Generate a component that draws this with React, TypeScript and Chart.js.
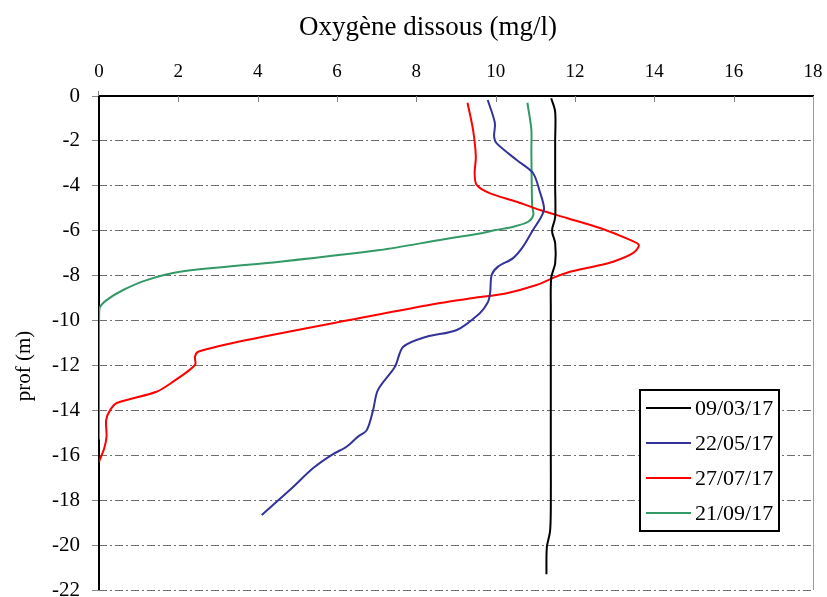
import React, { useEffect, useRef } from "react";
import { Chart, registerables } from "chart.js";

Chart.register(...registerables);

const seriesLabels = ["09/03/17", "22/05/17", "27/07/17", "21/09/17"];
const seriesColors = ["#000000", "#333399", "#FF0000", "#339966"];

const o2_0903 = [11.4, 11.5, 11.5, 11.5, 11.5, 11.42, 11.5, 11.5, 11.4, 11.39, 11.39, 11.39, 11.39, 11.37, 11.29, 11.28];
const depth_0903 = [-0.1, -0.7, -2, -4, -5.4, -6.0, -6.55, -7.45, -8.1, -9.5, -12, -16, -18.4, -19.4, -20.1, -21.3];

const o2_2205 = [9.8, 9.98, 9.96, 10.02, 10.53, 10.94, 11.12, 11.22, 11.15, 10.94, 10.69, 10.44, 10.06, 9.9, 9.86, 9.8, 9.6, 9.02, 8.26, 7.67, 7.46, 7.03, 6.91, 6.75, 6.53, 6.24, 5.86, 5.4, 4.81, 4.1];
const depth_2205 = [-0.18, -1.2, -1.8, -2.1, -2.85, -3.43, -4.3, -5.0, -5.38, -5.97, -6.71, -7.22, -7.6, -7.97, -8.78, -9.2, -9.67, -10.42, -10.72, -11.17, -12.06, -13.1, -13.99, -14.88, -15.17, -15.62, -15.99, -16.57, -17.55, -18.66];

const o2_2707 = [9.29, 9.43, 9.5, 9.47, 9.52, 9.86, 10.53, 11.12, 11.79, 12.63, 13.39, 13.61, 13.46, 12.96, 12.45, 11.87, 11.45, 11.03, 10.28, 9.43, 8.6, 6.58, 3.72, 2.5, 2.42, 2.42, 1.87, 1.45, 0.45, 0.28, 0.18, 0.19, 0.13, 0.0];
const depth_2707 = [-0.3, -1.51, -2.7, -3.43, -3.96, -4.34, -4.71, -5.08, -5.43, -5.88, -6.41, -6.64, -7.0, -7.38, -7.6, -7.83, -8.1, -8.42, -8.78, -9.0, -9.22, -9.89, -10.87, -11.39, -11.61, -11.98, -12.72, -13.17, -13.67, -13.99, -14.43, -15.17, -15.7, -16.29];

const o2_2109 = [10.8, 10.9, 10.9, 10.92, 10.95, 10.82, 10.45, 10.0, 9.6, 8.6, 7.08, 4.56, 2.04, 1.2, 0.61, 0.19, 0.01, 0, 0];
const depth_2109 = [-0.3, -1.5, -2.4, -4.9, -5.3, -5.6, -5.82, -5.97, -6.12, -6.41, -6.86, -7.38, -7.83, -8.2, -8.64, -9.09, -9.46, -10.4, -15.3];

const xTitle = "Oxygène dissous (mg/l)";
const yTitle = "prof (m)";

const SERIF = "'Liberation Serif', 'Times New Roman', serif";
const GRID_GRAY = "#6e6e6e";

function toPoints(xs: number[], ys: number[]) {
  return xs.map((x, i) => ({ x, y: ys[i] }));
}

const decorPlugin = {
  id: "decor",
  beforeDatasetsDraw(chart: any) {
    const { ctx, chartArea } = chart;
    ctx.save();
    ctx.strokeStyle = "#000";
    ctx.lineWidth = 2;
    ctx.setLineDash([]);
    ctx.beginPath();
    ctx.moveTo(chartArea.left, chartArea.top - 1);
    ctx.lineTo(chartArea.left, chartArea.bottom);
    ctx.stroke();
    ctx.restore();
  },
  afterDraw(chart: any) {
    const { ctx, chartArea } = chart;
    const xs = chart.scales.x;
    ctx.save();
    ctx.setLineDash([]);
    // inside tick marks on top axis
    ctx.strokeStyle = "#808080";
    ctx.lineWidth = 1;
    xs.ticks.forEach((t: any) => {
      const px = Math.round(xs.getPixelForValue(t.value)) + 0.5;
      if (t.value > 0 && t.value < 18) {
        ctx.beginPath();
        ctx.moveTo(px, chartArea.top);
        ctx.lineTo(px, chartArea.top + 6);
        ctx.stroke();
      }
    });
    // small tick above origin
    ctx.beginPath();
    ctx.moveTo(chartArea.left - 0.5, chartArea.top - 5);
    ctx.lineTo(chartArea.left - 0.5, chartArea.top);
    ctx.stroke();
    // right border
    ctx.strokeStyle = "#9a9a9a";
    ctx.beginPath();
    ctx.moveTo(chartArea.right + 0.5, chartArea.top);
    ctx.lineTo(chartArea.right + 0.5, chartArea.bottom);
    ctx.stroke();

    // titles
    ctx.fillStyle = "#000";
    ctx.textAlign = "center";
    ctx.textBaseline = "middle";
    ctx.font = `27px ${SERIF}`;
    ctx.fillText(xTitle, 428, 28);
    ctx.save();
    ctx.translate(24, 366);
    ctx.rotate(-Math.PI / 2);
    ctx.font = `21px ${SERIF}`;
    ctx.fillText(yTitle, 0, 0);
    ctx.restore();

    // legend
    const lx = 640, ly = 390, lw = 139, lh = 141;
    ctx.fillStyle = "#fff";
    ctx.fillRect(lx, ly, lw, lh);
    ctx.strokeStyle = "#000";
    ctx.lineWidth = 2;
    ctx.strokeRect(lx, ly, lw, lh);
    ctx.font = `22px ${SERIF}`;
    ctx.textAlign = "left";
    chart.data.datasets.forEach((ds: any, i: number) => {
      const cy = ly + 18 + i * 35;
      ctx.strokeStyle = ds.borderColor;
      ctx.lineWidth = 2;
      ctx.beginPath();
      ctx.moveTo(lx + 6, cy);
      ctx.lineTo(lx + 51, cy);
      ctx.stroke();
      ctx.fillStyle = "#000";
      ctx.fillText(ds.label, lx + 55, cy + 1);
    });
    ctx.restore();
  },
};

export default function App() {
  const ref = useRef<HTMLCanvasElement | null>(null);
  useEffect(() => {
    if (!ref.current) return;
    const xsArr = [o2_0903, o2_2205, o2_2707, o2_2109];
    const ysArr = [depth_0903, depth_2205, depth_2707, depth_2109];
    const chart = new Chart(ref.current, {
      type: "scatter",
      data: {
        datasets: seriesLabels.map((label, i) => ({
          label,
          data: toPoints(xsArr[i], ysArr[i]),
          showLine: true,
          borderColor: seriesColors[i],
          backgroundColor: seriesColors[i],
          borderWidth: 2,
          pointRadius: 0,
          tension: 0.3,
          fill: false,
        })),
      },
      options: {
        responsive: false,
        animation: false,
        devicePixelRatio: 1,
        layout: { padding: { left: 0, top: 0, right: 14, bottom: 7 } },
        plugins: {
          legend: { display: false },
          tooltip: { enabled: false },
          title: { display: false },
        },
        scales: {
          x: {
            type: "linear",
            position: "top",
            min: 0,
            max: 18,
            ticks: {
              stepSize: 2,
              color: "#000",
              padding: 5,
              font: { family: SERIF, size: 19 },
              callback: (v: any) => String(v),
            },
            grid: { display: false },
            border: { display: true, color: "#000", width: 2 },
            afterFit: (s: any) => {
              s.height = 96;
              s.paddingLeft = 0;
              s.paddingRight = 0;
              s.paddingTop = 0;
              s.paddingBottom = 0;
            },
          },
          y: {
            type: "linear",
            min: -22,
            max: 0,
            ticks: {
              stepSize: 2,
              color: "#000",
              padding: 12,
              font: { family: SERIF, size: 21 },
              callback: (v: any) => String(v),
            },
            grid: {
              color: (c: any) => (c.tick && c.tick.value === 0 ? "rgba(0,0,0,0)" : GRID_GRAY),
              lineWidth: 1,
              tickLength: 7,
              tickColor: "#8a8a8a",
              tickBorderDash: [],
            },
            border: { display: false, dash: [8, 3, 2, 3] },
            afterFit: (s: any) => {
              s.width = 99;
              s.paddingLeft = 0;
              s.paddingRight = 0;
              s.paddingTop = 0;
              s.paddingBottom = 0;
            },
          },
        },
      },
      plugins: [decorPlugin],
    });
    return () => chart.destroy();
  }, []);
  return (
    <div style={{ position: "fixed", left: 0, top: 0, width: 827, height: 597, background: "#fff" }}>
      <canvas ref={ref} width={827} height={597} />
    </div>
  );
}
